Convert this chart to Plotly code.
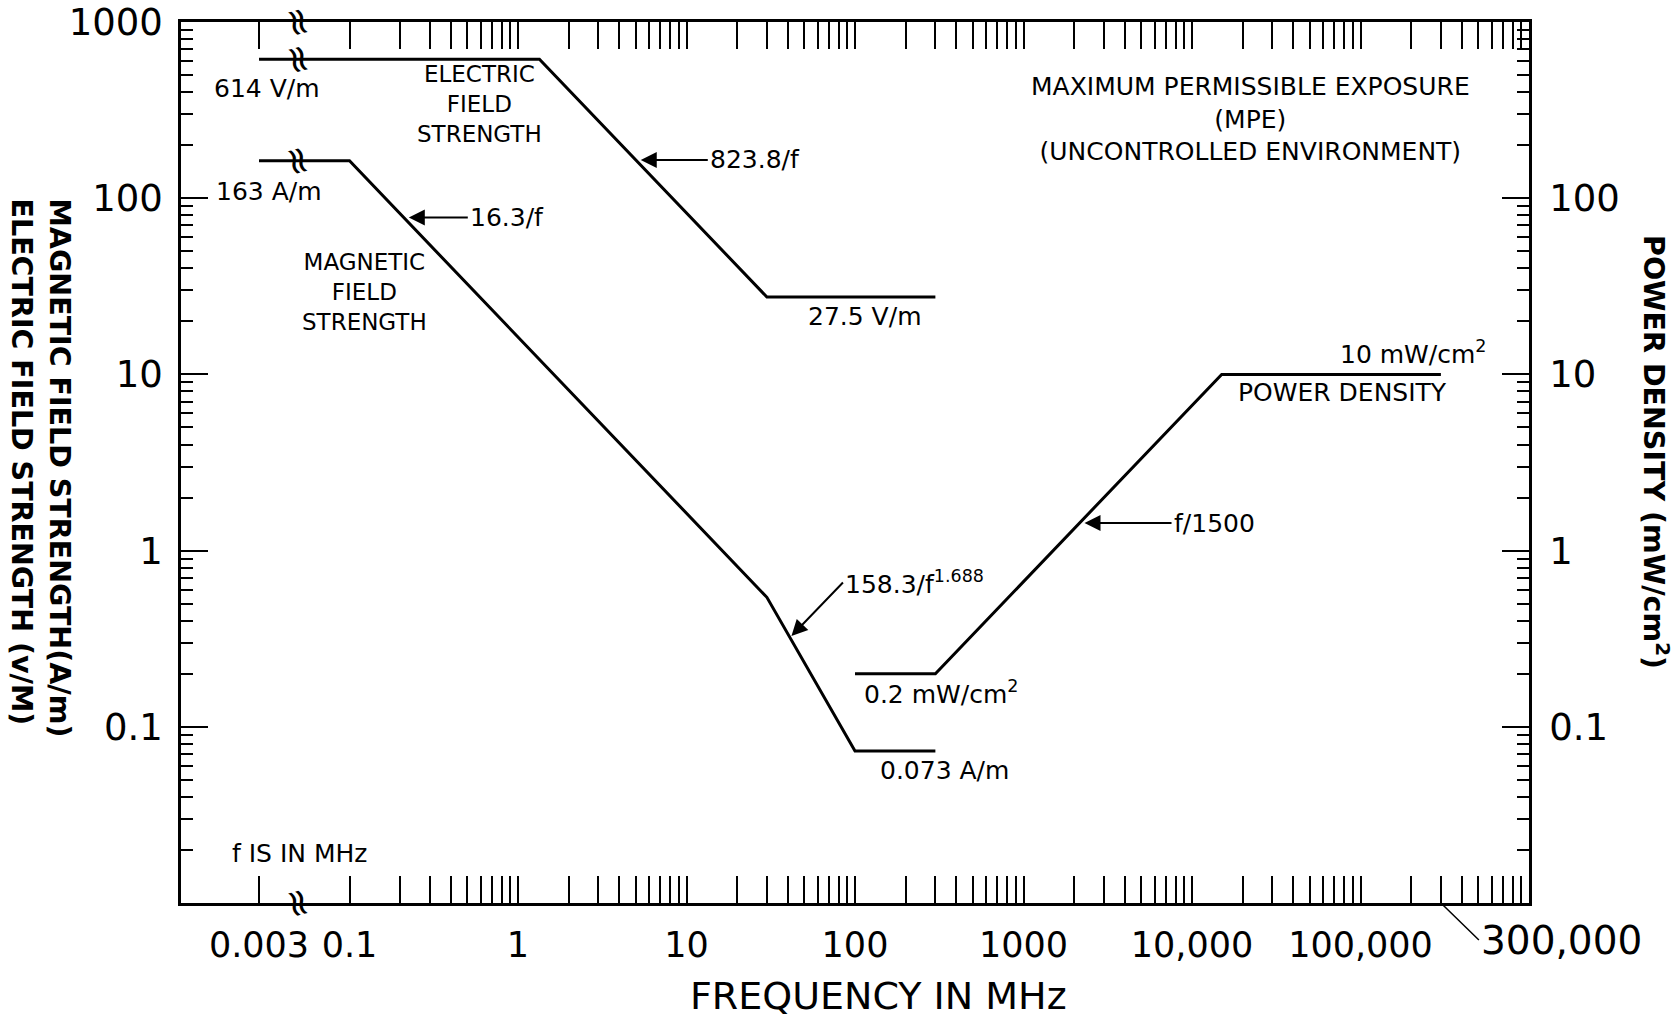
import math
import plotly.graph_objects as go

# ---------------- data ----------------
E_FREQ = [0.003, 1.34, 30, 300]          # MHz
E_VAL = [614, 614, 27.5, 27.5]           # V/m
H_FREQ = [0.003, 0.1, 30, 100, 300]      # MHz
H_VAL = [163, 163, 0.543, 0.073, 0.073]  # A/m
P_FREQ = [100, 300, 15000, 300000]       # MHz
P_VAL = [0.2, 0.2, 10, 10]               # mW/cm2

X_TICK_VALS = [0.003, 0.1, 1, 10, 100, 1000, 10000, 100000]
X_TICK_TEXT = ["0.003", "0.1", "1", "10", "100", "1000", "10,000", "100,000"]
X_EXTRA_TICK = 300000
X_EXTRA_LABEL = "300,000"
YL_TICK_VALS = [0.1, 1, 10, 100, 1000]
YL_TICK_TEXT = ["0.1", "1", "10", "100", "1000"]
YR_TICK_VALS = [0.1, 1, 10, 100]
YR_TICK_TEXT = ["0.1", "1", "10", "100"]

# ---------------- broken axis mapping ----------------
# frequencies below 0.1 MHz are compressed into a short stretch left of the break
K_COMPRESS = 0.3526
def disp(f):
    if f >= 0.1:
        return f
    return 10 ** (-1 + (math.log10(f) + 1) * K_COMPRESS)

BREAK_LOG = -1.30

# ---------------- layout geometry ----------------
W, H = 1674, 1019
L, R, T, B = 181, 1529, 22, 903
def px(x):
    return (x - L) / (R - L)
def py(y):
    return (B - y) / (B - T)

FONT = "DejaVu Sans"
LW = 3

fig = go.Figure()
fig.add_trace(go.Scatter(x=[disp(f) for f in E_FREQ], y=E_VAL, mode="lines",
                         line=dict(color="black", width=LW), showlegend=False))
fig.add_trace(go.Scatter(x=[disp(f) for f in H_FREQ], y=H_VAL, mode="lines",
                         line=dict(color="black", width=LW), showlegend=False))
fig.add_trace(go.Scatter(x=P_FREQ, y=P_VAL, mode="lines", yaxis="y2",
                         line=dict(color="black", width=LW), showlegend=False))

# minor ticks
minor_x = []
for d in range(-1, 6):
    for m in range(2, 10):
        v = m * 10 ** d
        if v != X_EXTRA_TICK:
            minor_x.append(v)
minor_y = [m * 10 ** d for d in range(-2, 3) for m in range(2, 10)]

def minor(vals):
    return dict(tickvals=vals, ticks="inside", ticklen=12, tickwidth=1.6,
                tickcolor="black", showgrid=False)

fig.update_layout(
    width=W, height=H,
    margin=dict(l=L, r=W - R, t=T, b=H - B, pad=0, autoexpand=False),
    paper_bgcolor="white", plot_bgcolor="white",
    font=dict(family=FONT, color="black"),
    xaxis=dict(
        type="log", range=[-2, 6], showgrid=False, zeroline=False, automargin=False,
        showline=True, linecolor="black", linewidth=2.5, mirror="allticks",
        ticks="inside", ticklen=27, tickwidth=2, tickcolor="black",
        tickvals=[disp(v) for v in X_TICK_VALS], ticktext=X_TICK_TEXT,
        tickfont=dict(size=35, family=FONT), ticklabelstandoff=9,
        minor=minor(minor_x),
    ),
    # second x axis used only to draw the long tick at 300,000 (top and bottom)
    xaxis2=dict(
        type="log", range=[-2, 6], overlaying="x", side="bottom", automargin=False,
        showgrid=False, zeroline=False, showline=False, mirror="allticks",
        ticks="inside", ticklen=27, tickwidth=2, tickcolor="black",
        tickvals=[X_EXTRA_TICK], showticklabels=False,
    ),
    yaxis=dict(
        type="log", range=[-2, 3], showgrid=False, zeroline=False, automargin=False,
        showline=True, linecolor="black", linewidth=2.5,
        ticks="inside", ticklen=27, tickwidth=2, tickcolor="black",
        tickvals=YL_TICK_VALS, ticktext=YL_TICK_TEXT,
        tickfont=dict(size=37, family=FONT), ticklabelstandoff=8,
        minor=minor(minor_y),
    ),
    yaxis2=dict(
        type="log", range=[-2, 3], overlaying="y", side="right", automargin=False,
        showgrid=False, zeroline=False,
        showline=True, linecolor="black", linewidth=2.5,
        ticks="inside", ticklen=27, tickwidth=2, tickcolor="black",
        tickvals=YR_TICK_VALS, ticktext=YR_TICK_TEXT,
        tickfont=dict(size=37, family=FONT), ticklabelstandoff=10,
        minor=minor(minor_y),
    ),
)
# anchor trace for xaxis2 so its ticks are drawn
fig.add_trace(go.Scatter(x=[X_EXTRA_TICK], y=[P_VAL[-1]], xaxis="x2", mode="lines",
                         line=dict(color="black", width=LW), showlegend=False,
                         hoverinfo="skip"))

ann = []
TS = 25

def text(s, x, y, xanchor="left", size=TS, **kw):
    ann.append(dict(text=s, x=px(x), y=py(y), xref="paper", yref="paper",
                    xanchor=xanchor, yanchor="middle", showarrow=False,
                    font=dict(size=size, family=FONT, color="black"), **kw))

def arrow(s, f, val, ax, ay, yref="y"):
    ann.append(dict(text=s, x=math.log10(disp(f)), y=math.log10(val), xref="x", yref=yref,
                    ax=ax, ay=ay, xanchor="left", yanchor="middle",
                    showarrow=True, arrowhead=2, arrowsize=1.6, arrowwidth=2,
                    arrowcolor="black", standoff=5,
                    font=dict(size=TS, family=FONT, color="black")))

text("614 V/m", 212, 88)
text("ELECTRIC<br>FIELD<br>STRENGTH", 479, 104, xanchor="center", align="center", size=23)
text("163 A/m", 214, 191)
text("MAGNETIC<br>FIELD<br>STRENGTH", 364, 292, xanchor="center", align="center", size=23)
text("27.5 V/m", 806, 317)
text("10 mW/cm<sup>2</sup>", 1489, 352, xanchor="right")
text("POWER DENSITY", 1236, 393)
text("0.2 mW/cm<sup>2</sup>", 862, 692)
text("0.073 A/m", 878, 770)
text("f IS IN MHz", 230, 853)
text("MAXIMUM PERMISSIBLE EXPOSURE<br>(MPE)<br>(UNCONTROLLED ENVIRONMENT)",
     1250, 119, xanchor="center", align="center", size=25)
text("FREQUENCY IN MHz", 878, 996, xanchor="center", size=38)

arrow("823.8/f", 5.0, 823.8 / 5.0, 72, 0)
arrow("16.3/f", 0.21, 16.3 / 0.21, 64, 0)
arrow("f/1500", 2150, 2150 / 1500, 92, 0, yref="y2")
arrow("158.3/f<sup>1.688</sup>", 40, 158.3 / 40 ** 1.688, 55, -57)

# 300,000 label with leader to its tick
ann.append(dict(text=X_EXTRA_LABEL, x=math.log10(X_EXTRA_TICK), y=0, xref="x", yref="paper",
                ax=38, ay=37, xanchor="left", yanchor="middle", showarrow=True,
                arrowhead=0, arrowwidth=1.5, arrowcolor="black",
                font=dict(size=39, family=FONT, color="black")))

# axis titles
ann.append(dict(text="MAGNETIC FIELD STRENGTH(A/m)<br>ELECTRIC FIELD STRENGTH (v/M)",
                x=px(41), y=py(196), xref="paper", yref="paper", xanchor="center",
                yanchor="top", textangle=90, align="left", showarrow=False,
                font=dict(size=28.5, family=FONT, color="black", weight="bold")))
ann.append(dict(text="POWER DENSITY (mW/cm<sup>2</sup>)",
                x=px(1656), y=py(452), xref="paper", yref="paper", xanchor="center",
                yanchor="middle", textangle=90, showarrow=False,
                font=dict(size=28.5, family=FONT, color="black", weight="bold")))

# axis-break marks
for yv, yr in [(0, "paper"), (1, "paper"), (math.log10(E_VAL[0]), "y"), (math.log10(H_VAL[0]), "y")]:
    ann.append(dict(text="≈", x=BREAK_LOG, y=yv, xref="x", yref=yr, showarrow=False,
                    textangle=75, xanchor="center", yanchor="middle",
                    font=dict(size=38, family=FONT, color="black")))

fig.update_layout(annotations=ann)
fig.write_html("out.html", config={"displayModeBar": False},
               post_script="document.body.style.margin='0';")
